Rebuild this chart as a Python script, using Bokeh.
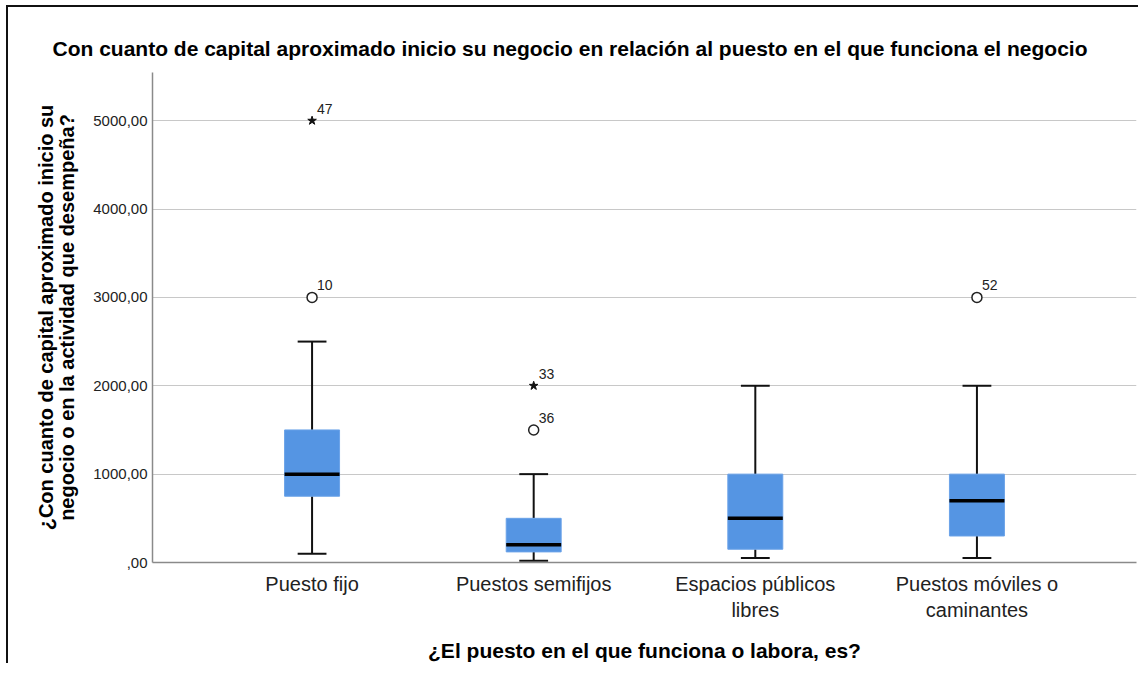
from bokeh.plotting import figure
from bokeh.models import Range1d, FixedTicker, ColumnDataSource
from bokeh.embed import file_html
from bokeh.resources import INLINE

categories = ["Puesto fijo", "Puestos semifijos", "Espacios públicos\nlibres", "Puestos móviles o\ncaminantes"]
q1 = [750, 120, 150, 300]
median = [1000, 200, 500, 700]
q3 = [1500, 500, 1000, 1000]
whisker_low = [100, 20, 50, 50]
whisker_high = [2500, 1000, 2000, 2000]

outlier_cat = [0, 1, 3]
outlier_val = [3000, 1500, 3000]
outlier_lbl = ["10", "36", "52"]

extreme_cat = [0, 1]
extreme_val = [5000, 2000]
extreme_lbl = ["47", "33"]

y_ticks = [0, 1000, 2000, 3000, 4000, 5000]
y_tick_labels = [",00", "1000,00", "2000,00", "3000,00", "4000,00", "5000,00"]

FONT = "Liberation Sans"
BOX_W = 0.248
CAP_W = 0.13

xs = list(range(len(categories)))

p = figure(width=1132, height=658, output_backend="svg", toolbar_location=None,
           x_range=Range1d(-0.72, 3.72), y_range=Range1d(0, 5545),
           min_border_left=144, min_border_right=4, min_border_top=65, min_border_bottom=103,
           title="Con cuanto de capital aproximado inicio su negocio en relación al puesto en el que funciona el negocio")
p.styles = {"border-left": "2px solid #111", "border-top": "2px solid #111",
            "margin-left": "6px", "margin-top": "5px"}
p.outline_line_color = None
p.background_fill_color = "white"
p.border_fill_color = "white"

p.title.text_font = FONT
p.title.text_font_size = "21px"
p.title.text_font_style = "bold"
p.title.text_color = "#000000"
p.title.align = "left"
p.title.offset = -100
p.title.standoff = 25

# grids
p.xgrid.grid_line_color = None
p.ygrid.grid_line_color = "#c8c8c8"
p.ygrid.grid_line_width = 1.2
p.ygrid.ticker = FixedTicker(ticks=y_ticks)

# y axis
p.yaxis.ticker = FixedTicker(ticks=y_ticks)
p.yaxis.major_label_overrides = {t: l for t, l in zip(y_ticks, y_tick_labels)}
p.yaxis.major_tick_line_color = None
p.yaxis.major_tick_out = 0
p.yaxis.major_tick_in = 0
p.yaxis.minor_tick_line_color = None
p.yaxis.minor_tick_out = 0
p.yaxis.axis_line_color = "#8a8a8a"
p.yaxis.axis_line_width = 1.5
p.yaxis.major_label_text_font = FONT
p.yaxis.major_label_text_font_size = "15px"
p.yaxis.major_label_text_color = "#222222"
p.yaxis.major_label_standoff = 5
p.yaxis.axis_label = "¿Con cuanto de capital aproximado inicio su\nnegocio o en la actividad que desempeña?"
p.yaxis.axis_label_text_font = FONT
p.yaxis.axis_label_text_font_size = "20px"
p.yaxis.axis_label_text_font_style = "bold"
p.yaxis.axis_label_text_color = "#000000"
p.yaxis.axis_label_text_line_height = 0.95
p.yaxis.axis_label_standoff = 12

# x axis
p.xaxis.ticker = FixedTicker(ticks=xs)
p.xaxis.major_label_overrides = {i: c for i, c in zip(xs, categories)}
p.xaxis.major_tick_line_color = None
p.xaxis.major_tick_out = 0
p.xaxis.major_tick_in = 0
p.xaxis.minor_tick_line_color = None
p.xaxis.minor_tick_out = 0
p.xaxis.axis_line_color = "#8a8a8a"
p.xaxis.axis_line_width = 1.5
p.xaxis.major_label_text_font = FONT
p.xaxis.major_label_text_font_size = "20px"
p.xaxis.major_label_text_color = "#222222"
p.xaxis.major_label_standoff = 10
p.xaxis.axis_label = "¿El puesto en el que funciona o labora, es?"
p.xaxis.axis_label_text_font = FONT
p.xaxis.axis_label_text_font_size = "21px"
p.xaxis.axis_label_text_font_style = "bold"
p.xaxis.axis_label_text_color = "#000000"
p.xaxis.axis_label_standoff = 15

src = ColumnDataSource(dict(x=xs, q1=q1, med=median, q3=q3, lo=whisker_low, hi=whisker_high,
                            cl=[x - CAP_W / 2 for x in xs], cr=[x + CAP_W / 2 for x in xs],
                            bl=[x - BOX_W / 2 for x in xs], br=[x + BOX_W / 2 for x in xs]))

# whiskers
p.segment(x0="x", y0="q3", x1="x", y1="hi", source=src, line_color="#111111", line_width=2)
p.segment(x0="x", y0="lo", x1="x", y1="q1", source=src, line_color="#111111", line_width=2)
p.segment(x0="cl", y0="hi", x1="cr", y1="hi", source=src, line_color="#111111", line_width=2)
p.segment(x0="cl", y0="lo", x1="cr", y1="lo", source=src, line_color="#111111", line_width=2)
# boxes
p.quad(left="bl", right="br", bottom="q1", top="q3", source=src,
       fill_color="#5595e3", line_color="#6aa2e8", line_width=1)
# medians
p.segment(x0="bl", y0="med", x1="br", y1="med", source=src, line_color="#000000", line_width=3.5)

# outliers
osrc = ColumnDataSource(dict(x=outlier_cat, y=outlier_val, t=outlier_lbl))
p.scatter(x="x", y="y", source=osrc, marker="circle", size=10, fill_color="white",
          line_color="#222222", line_width=1.5)
p.text(x="x", y="y", text="t", source=osrc, x_offset=5, y_offset=-7,
       text_font_size="14px", text_color="#222222", text_baseline="bottom",
       text_font={"value": FONT})

esrc = ColumnDataSource(dict(x=extreme_cat, y=extreme_val, t=extreme_lbl))
p.scatter(x="x", y="y", source=esrc, marker="star", size=9, fill_color="#111111",
          line_color="#111111", line_width=1)
p.text(x="x", y="y", text="t", source=esrc, x_offset=5, y_offset=-7,
       text_font_size="14px", text_color="#222222", text_baseline="bottom",
       text_font={"value": FONT})

open("out.html", "w").write(file_html(p, INLINE))
